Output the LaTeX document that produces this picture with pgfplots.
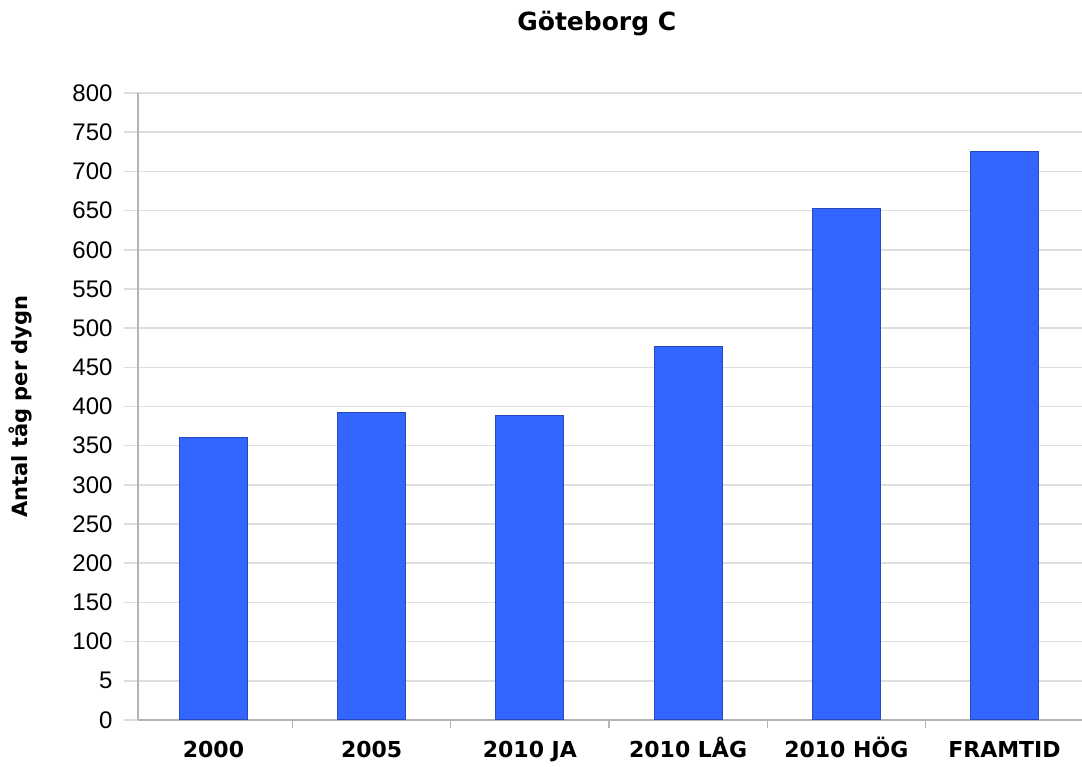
\documentclass[border=0pt]{standalone}
\usepackage{fontspec}
\setmainfont{Liberation Sans}
\newfontfamily\lblfont{DejaVu Sans}
\usepackage{pgfplots}
\pgfplotsset{compat=1.18}

\definecolor{barblue}{RGB}{51,102,255}
\definecolor{baredge}{RGB}{40,72,190}
\definecolor{gridgray}{RGB}{222,222,222}
\definecolor{axisgray}{RGB}{180,180,180}

\begin{document}
\begin{tikzpicture}
\path[use as bounding box] (-138pt,-47pt) rectangle (944pt,720pt);
\begin{axis}[
  scale only axis,
  width=944pt, height=627pt,
  xmin=-0.477, xmax=5.49,
  ymin=0, ymax=800,
  xtick={0,1,2,3,4,5},
  xticklabels={2000,2005,2010 JA,2010 LÅG,2010 HÖG,FRAMTID},
  minor xtick={0.5,1.5,2.5,3.5,4.5},
  ytick={0,50,100,150,200,250,300,350,400,450,500,550,600,650,700,750,800},
  yticklabels={0,5,100,150,200,250,300,350,400,450,500,550,600,650,700,750,800},
  /pgf/number format/assume math mode=true,
  ymajorgrids,
  grid style={gridgray, line width=1.6pt},
  axis x line*=bottom,
  axis y line*=left,
  axis line style={axisgray, line width=1.4pt},
  x axis line style={-},
  y axis line style={-},
  tick align=outside,
  major x tick style={draw=none},
  minor x tick style={axisgray, line width=1.2pt},
  minor tick length=8pt,
  major y tick style={gridgray, line width=1.6pt},
  major tick length=14pt,
  yticklabel style={font=\fontsize{24}{28}\selectfont, xshift=-8pt},
  xticklabel style={font=\lblfont\bfseries\fontsize{22}{26}\selectfont,
                    text height=21pt, text depth=5pt, yshift=1pt},
  title={Göteborg C},
  title style={font=\lblfont\bfseries\fontsize{25}{30}\selectfont,
               at={(axis description cs:0.486,1.1005)}, anchor=center},
  ylabel={Antal tåg per dygn},
  ylabel style={font=\lblfont\bfseries\fontsize{21}{25}\selectfont,
                at={(axis description cs:-0.125,0.5)}, anchor=center},
  ybar, bar width=0.43,
  clip=false,
]
\addplot[fill=barblue, draw=baredge, line width=1pt] coordinates {
  (0,360) (1,392) (2,389) (3,477) (4,653) (5,725)
};
\end{axis}
\end{tikzpicture}
\end{document}
